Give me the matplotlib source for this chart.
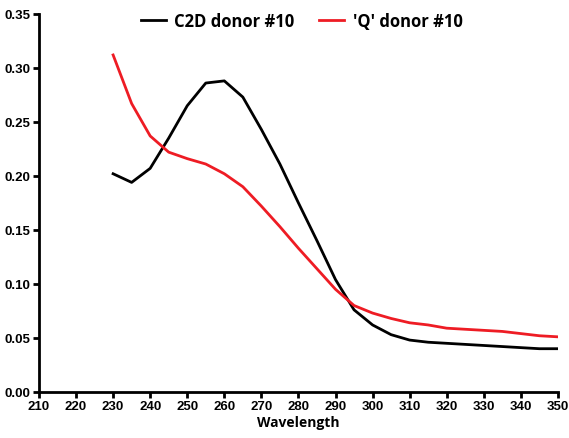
import numpy as np
from matplotlib import pyplot as plt

# data
wavelength = [230, 235, 240, 245, 250, 255, 260, 265, 270, 275, 280, 285, 290,
              295, 300, 305, 310, 315, 320, 325, 330, 335, 340, 345, 350]
c2d = [0.202, 0.194, 0.207, 0.235, 0.265, 0.286, 0.288, 0.273, 0.243, 0.211,
       0.175, 0.140, 0.104, 0.076, 0.062, 0.053, 0.048, 0.046, 0.045, 0.044,
       0.043, 0.042, 0.041, 0.040, 0.040]
q_donor = [0.312, 0.267, 0.237, 0.222, 0.216, 0.211, 0.202, 0.190, 0.172, 0.153,
           0.133, 0.114, 0.095, 0.080, 0.073, 0.068, 0.064, 0.062, 0.059, 0.058,
           0.057, 0.056, 0.054, 0.052, 0.051]
series_names = ["C2D donor #10", "'Q' donor #10"]

fig = plt.figure(figsize=(5.69, 4.39), dpi=100)
ax = fig.add_axes([0.0685, 0.105, 0.912, 0.861])

ax.plot(wavelength, c2d, color="black", lw=2, label=series_names[0])
ax.plot(wavelength, q_donor, color="#ee1c24", lw=2, label=series_names[1])

ax.set_xlim(210, 350)
ax.set_ylim(0, 0.35)
ax.set_xticks(np.arange(210, 351, 10))
ax.set_yticks(np.arange(0, 0.351, 0.05))
ax.set_yticklabels([f"{v:.2f}" for v in np.arange(0, 0.351, 0.05)])

for s in ["top", "right"]:
    ax.spines[s].set_visible(False)
for s in ["left", "bottom"]:
    ax.spines[s].set_linewidth(2)
ax.tick_params(direction="out", length=4, width=2, pad=2)
for lab in ax.get_xticklabels() + ax.get_yticklabels():
    lab.set_family("Liberation Sans")
    lab.set_fontweight("bold")
    lab.set_fontsize(9.5)

ax.set_xlabel("Wavelength", family="Open Sans", fontweight="bold", fontsize=10, labelpad=2)

fig.legend(loc="upper center", bbox_to_anchor=(0.53, 1.005), ncol=2, frameon=False,
           prop={"family": "Open Sans", "weight": "bold", "size": 12},
           handlelength=1.5, columnspacing=1.5, handletextpad=0.5)

fig.savefig("out.png", dpi=100)
